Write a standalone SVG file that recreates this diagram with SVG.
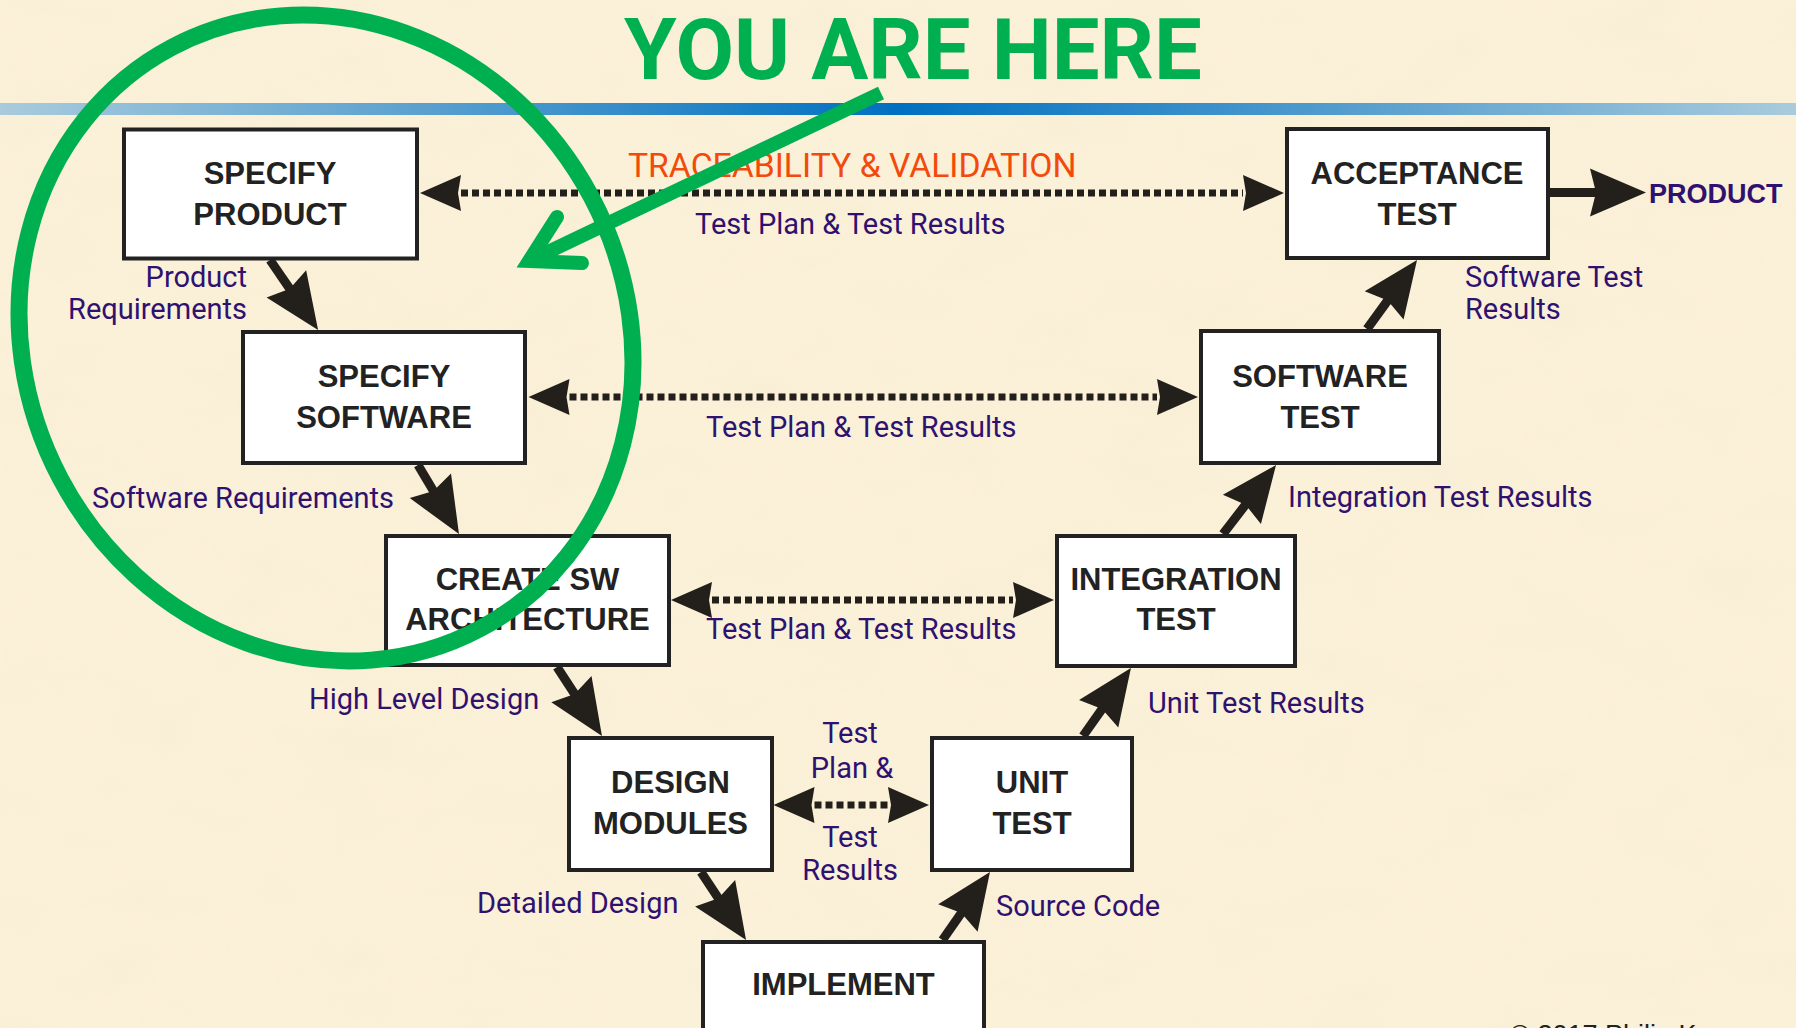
<svg xmlns="http://www.w3.org/2000/svg" width="1796" height="1028" viewBox="0 0 1796 1028">
  <defs>
    <linearGradient id="band" x1="0" y1="0" x2="1796" y2="0" gradientUnits="userSpaceOnUse">
      <stop offset="0" stop-color="#a9cbdc"/>
      <stop offset="0.5" stop-color="#0070c0"/>
      <stop offset="1" stop-color="#a9cbdc"/>
    </linearGradient>
    <filter id="paper" x="0" y="0" width="100%" height="100%">
      <feTurbulence type="fractalNoise" baseFrequency="0.01 0.018" numOctaves="4" seed="7"/>
      <feColorMatrix type="matrix" values="0 0 0 0 0.90  0 0 0 0 0.83  0 0 0 0 0.64  1.8 0 0 0 -0.75"/>
    </filter>
    <marker id="solidHead" markerUnits="userSpaceOnUse" orient="auto" refX="0" refY="0" markerWidth="120" markerHeight="120" viewBox="-20 -60 120 120" overflow="visible">
      <path d="M45,0 L-11,-24 L-5,0 L-11,24 Z" fill="#231f1a"/>
    </marker>
    <marker id="dotHead" markerUnits="userSpaceOnUse" orient="auto-start-reverse" refX="0" refY="0" markerWidth="100" markerHeight="100" viewBox="-20 -50 100 100" overflow="visible">
      <path d="M41,0 L0,-18 L3,0 L0,18 Z" fill="#231f1a"/>
    </marker>
  </defs>
  <style>
    .box { fill: #ffffff; stroke: #222222; stroke-width: 4; }
    .node { font-family: "Liberation Sans", Arial, sans-serif; font-weight: bold; font-size: 31px; fill: #222222; text-anchor: middle; }
    .lbl { font-family: Roboto, "Liberation Sans", sans-serif; font-size: 29px; fill: #2f1170; }
    .solid { stroke: #231f1a; stroke-width: 9; fill: none; marker-end: url(#solidHead); }
    .dotted { stroke: #231f1a; stroke-width: 7; stroke-dasharray: 7 4; fill: none; marker-start: url(#dotHead); marker-end: url(#dotHead); }
    .green { stroke: #00b050; fill: none; }
  </style>

  <rect x="0" y="0" width="1796" height="1028" fill="#fbf0d8"/>
  <rect x="0" y="0" width="1796" height="1028" filter="url(#paper)" opacity="0.35"/>
  <rect x="0" y="103" width="1796" height="12" fill="url(#band)"/>

  <g id="connectors">
    <line class="dotted" x1="461" y1="193" x2="1243" y2="193"/>
    <line class="dotted" x1="569.5" y1="397" x2="1157" y2="397"/>
    <line class="dotted" x1="712" y1="600" x2="1013" y2="600"/>
    <line class="dotted" x1="814.5" y1="805" x2="888" y2="805"/>
    <line class="solid" x1="270" y1="260" x2="292.6" y2="292.9"/>
    <line class="solid" x1="418" y1="465" x2="436" y2="495.3"/>
    <line class="solid" x1="557" y1="667" x2="577.4" y2="698.3"/>
    <line class="solid" x1="701" y1="872" x2="721.2" y2="902.5"/>
    <line class="solid" x1="942.5" y1="940" x2="964.2" y2="908.9"/>
    <line class="solid" x1="1083" y1="736" x2="1105" y2="704.8"/>
    <line class="solid" x1="1223" y1="534" x2="1248.6" y2="500.7"/>
    <line class="solid" x1="1367" y1="329" x2="1390.6" y2="296.5"/>
    <line class="solid" x1="1550" y1="192.5" x2="1601" y2="192.5"/>
  </g>

  <g id="specify-product">
    <rect class="box" x="124" y="129.5" width="293" height="129"/>
    <text class="node" x="270" y="184">SPECIFY</text>
    <text class="node" x="270" y="224.5">PRODUCT</text>
  </g>
  <g id="specify-software">
    <rect class="box" x="243" y="332" width="282" height="131"/>
    <text class="node" x="384" y="387">SPECIFY</text>
    <text class="node" x="384" y="428">SOFTWARE</text>
  </g>
  <g id="create-sw-architecture">
    <rect class="box" x="386" y="536" width="283" height="129"/>
    <text class="node" x="527.5" y="590">CREATE SW</text>
    <text class="node" x="527.5" y="630">ARCHITECTURE</text>
  </g>
  <g id="design-modules">
    <rect class="box" x="569" y="738" width="203" height="132"/>
    <text class="node" x="670.5" y="793">DESIGN</text>
    <text class="node" x="670.5" y="834">MODULES</text>
  </g>
  <g id="implement">
    <rect class="box" x="703" y="942" width="281" height="120"/>
    <text class="node" x="843.5" y="995">IMPLEMENT</text>
  </g>
  <g id="unit-test">
    <rect class="box" x="932" y="738" width="200" height="132"/>
    <text class="node" x="1032" y="793">UNIT</text>
    <text class="node" x="1032" y="834">TEST</text>
  </g>
  <g id="integration-test">
    <rect class="box" x="1057" y="536" width="238" height="130"/>
    <text class="node" x="1176" y="590">INTEGRATION</text>
    <text class="node" x="1176" y="630">TEST</text>
  </g>
  <g id="software-test">
    <rect class="box" x="1201" y="331" width="238" height="132"/>
    <text class="node" x="1320" y="387">SOFTWARE</text>
    <text class="node" x="1320" y="428">TEST</text>
  </g>
  <g id="acceptance-test">
    <rect class="box" x="1287" y="129" width="261" height="129"/>
    <text class="node" x="1417" y="184">ACCEPTANCE</text>
    <text class="node" x="1417" y="224.5">TEST</text>
  </g>

  <g id="labels">
    <text x="628" y="176.7" font-family="Roboto, 'Liberation Sans', sans-serif" font-size="33.7" fill="#f24a0a">TRACEABILITY &amp; VALIDATION</text>
    <text class="lbl" x="695" y="234">Test Plan &amp; Test Results</text>
    <text class="lbl" x="706" y="437">Test Plan &amp; Test Results</text>
    <text class="lbl" x="706" y="639">Test Plan &amp; Test Results</text>
    <text class="lbl" x="247" y="286.5" text-anchor="end">Product</text>
    <text class="lbl" x="247" y="319" text-anchor="end">Requirements</text>
    <text class="lbl" x="92" y="508">Software Requirements</text>
    <text class="lbl" x="309" y="709">High Level Design</text>
    <text class="lbl" x="477" y="913">Detailed Design</text>
    <text class="lbl" x="850" y="743" text-anchor="middle">Test</text>
    <text class="lbl" x="852" y="778" text-anchor="middle">Plan &amp;</text>
    <text class="lbl" x="850" y="847" text-anchor="middle">Test</text>
    <text class="lbl" x="850" y="880" text-anchor="middle">Results</text>
    <text class="lbl" x="996" y="916">Source Code</text>
    <text class="lbl" x="1148" y="713">Unit Test Results</text>
    <text class="lbl" x="1288" y="507">Integration Test Results</text>
    <text class="lbl" x="1465" y="286.5">Software Test</text>
    <text class="lbl" x="1465" y="319">Results</text>
    <text x="1649" y="203" font-family="'Liberation Sans', Arial, sans-serif" font-weight="bold" font-size="27" fill="#2f1170">PRODUCT</text>
    <text x="1510" y="1043.5" font-family="'Liberation Sans', Arial, sans-serif" font-size="27" fill="#222222">© 2017 Philip Koopman</text>
  </g>

  <g id="you-are-here">
    <ellipse class="green" cx="326" cy="338" rx="300.5" ry="329" transform="rotate(-27.9 326 338)" stroke-width="17"/>
    <line class="green" x1="881" y1="93" x2="529" y2="261" stroke-width="14"/>
    <polyline class="green" points="557,217 529,261 582,263" stroke-width="14" stroke-linecap="round" stroke-linejoin="miter" stroke-miterlimit="10"/>
    <text x="624" y="79" font-family="Roboto, 'Liberation Sans', sans-serif" font-weight="bold" font-size="85" fill="#00b050">YOU ARE HERE</text>
  </g>
</svg>
